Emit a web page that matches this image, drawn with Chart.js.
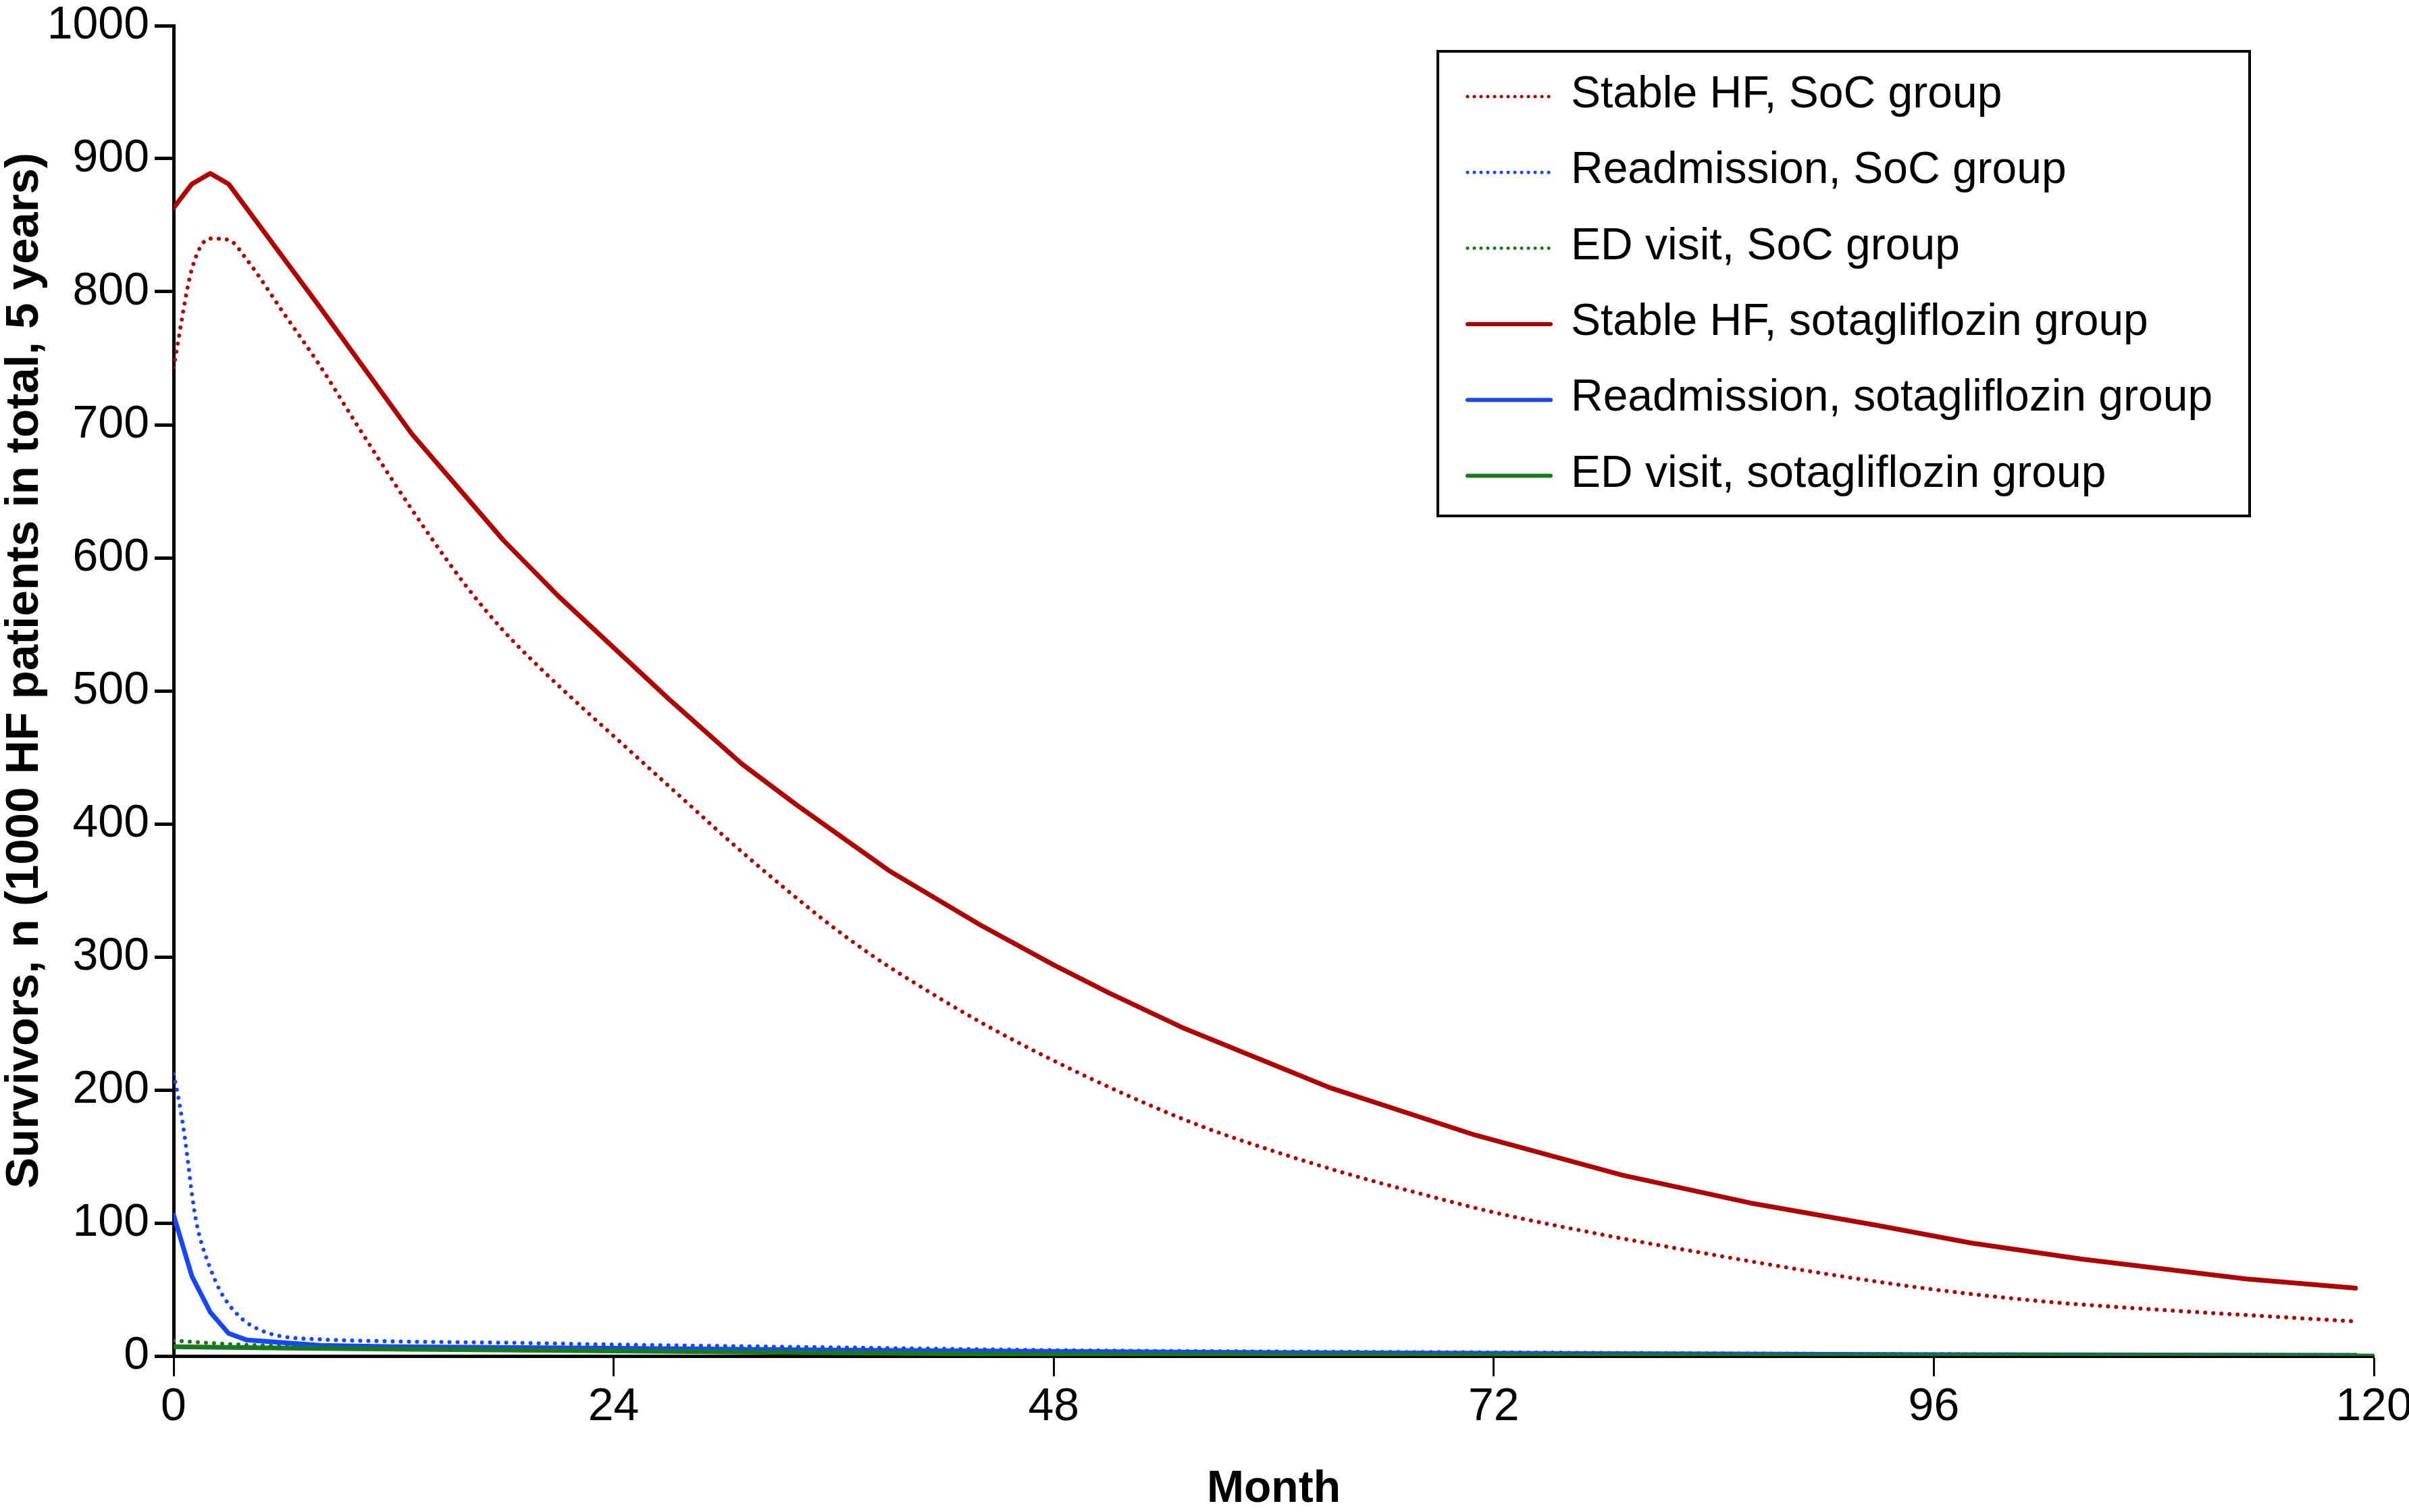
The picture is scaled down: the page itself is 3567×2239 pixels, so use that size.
<!DOCTYPE html>
<html>
<head>
<meta charset="utf-8">
<script src="https://cdn.jsdelivr.net/npm/chart.js@4.4.1/dist/chart.umd.min.js"></script>
<style>
html,body{margin:0;padding:0;background:#fff;}
#wrap{width:3567px;height:2239px;position:relative;}
</style>
</head>
<body>
<div id="wrap"><canvas id="c"></canvas></div>
<script>
// ---- Data ----
const seriesLabels = [
  "Stable HF, SoC group",
  "Readmission, SoC group",
  "ED visit, SoC group",
  "Stable HF, sotagliflozin group",
  "Readmission, sotagliflozin group",
  "ED visit, sotagliflozin group"
];
const yAxisTitle = "Survivors, n (1000 HF patients in total, 5 years)";
const xAxisTitle = "Month";

const stableSocMonths = [0,1,2,3,4,6,8,10,12,14,16,18,20,22,24,26,28,30,32,34,36,38,40,44,48,52,56,60,64,68,72,78,84,90,96,102,108,114,119];
const stableSocValues = [743,817,840,839,824,784,744,700,657,616,578,545,517,491,466,441,416,391,367,344,322,302,284,251,222,196,173,154,137,122,108,91,76,62,50,41,35,30,26];

const readmSocMonths = [0,0.25,0.5,0.75,1,1.25,1.5,2,2.5,3,3.5,4,5,6,8,12,18,24,30,36,42,48,60,72,84,96,108,119];
const readmSocValues = [212,195,175,150,122,100,86,66,50,39,31,25,18,14.5,12.5,11,10,8.6,7.5,6.5,5.4,4.4,3.4,2.7,2,1.4,1,0.7];

const edSocMonths = [0,3,6,12,24,36,48,60,72,84,96,108,119];
const edSocValues = [11.5,9,7.5,6.2,4.5,3.2,2.2,1.6,1.2,0.9,0.7,0.5,0.4];

const stableSotaMonths = [0,1,2,3,8,13,18,21,27,31,34,39,44,48,51,55,63,71,79,86,93,98,104,113,119];
const stableSotaValues = [863,881,889,881,788,693,613,571,494,445,414,365,324,294,273,247,202,166,136,115,98,85,73,58,51];

const readmSotaMonths = [0,1,2,3,4,8,12,24,36,48,60,72,84,96,108,119];
const readmSotaValues = [106,60,33,17,12,8,7,5.8,4.5,3.4,2.6,2,1.5,1,0.7,0.5];

const edSotaMonths = [0,6,12,24,36,48,60,72,84,96,108,120];
const edSotaValues = [7,6,5.2,3.8,2.4,1.2,0.8,0.5,0.3,0.2,0.1,0];

const xTicks = [0,24,48,72,96,120];
const yTicks = [0,100,200,300,400,500,600,700,800,900,1000];

const RED = "#b00000", BLUE = "#1746ff", GREEN = "#177a1f";
const FONT = "'Liberation Sans', Arial, sans-serif";

function pts(m, v){ return m.map((x,i)=>({x:x, y:v[i]})); }

const dotted = {borderWidth:6, borderDash:[0.01,12], borderCapStyle:"round", cubicInterpolationMode:"monotone"};
const solid = {borderWidth:7, borderCapStyle:"round", borderJoinStyle:"round", tension:0};

const datasets = [
  Object.assign({label:seriesLabels[0], data:pts(stableSocMonths,stableSocValues), borderColor:RED, order:5}, dotted),
  Object.assign({label:seriesLabels[1], data:pts(readmSocMonths,readmSocValues), borderColor:BLUE, order:4}, dotted),
  Object.assign({label:seriesLabels[2], data:pts(edSocMonths,edSocValues), borderColor:GREEN, order:3}, dotted),
  Object.assign({label:seriesLabels[3], data:pts(stableSotaMonths,stableSotaValues), borderColor:RED, order:2}, solid),
  Object.assign({label:seriesLabels[4], data:pts(readmSotaMonths,readmSotaValues), borderColor:BLUE, order:1}, solid),
  Object.assign({label:seriesLabels[5], data:pts(edSotaMonths,edSotaValues), borderColor:GREEN, order:0}, solid)
];
datasets.forEach(d=>{ d.pointRadius=0; d.fill=false; d.backgroundColor=d.borderColor; });

const boxLegend = {
  id:"boxLegend",
  afterDraw(chart, args, o){
    const ctx = chart.ctx;
    ctx.save();
    ctx.strokeStyle="#000"; ctx.lineWidth=o.frameWidth;
    ctx.strokeRect(o.left, o.top, o.right-o.left, o.bottom-o.top);
    ctx.font = o.font;
    ctx.textBaseline="alphabetic"; ctx.textAlign="left"; ctx.fillStyle="#000";
    chart.data.datasets.forEach((ds,i)=>{
      const y = o.firstY + i*o.rowGap;
      ctx.beginPath();
      ctx.strokeStyle = ds.borderColor;
      ctx.lineWidth = ds.borderWidth - 1;
      ctx.lineCap = "round";
      ctx.setLineDash(ds.borderDash && ds.borderDash.length ? [0.01, 10] : []);
      ctx.moveTo(o.sampleX0, y); ctx.lineTo(o.sampleX1, y);
      ctx.stroke();
      ctx.setLineDash([]);
      ctx.fillText(ds.label, o.textX, y + o.textDy);
    });
    ctx.restore();
  }
};

const yTitlePlugin = {
  id:"yTitle",
  afterDraw(chart, args, o){
    const ctx = chart.ctx;
    ctx.save();
    ctx.translate(o.x, o.y);
    ctx.rotate(-Math.PI/2);
    ctx.font = o.font;
    ctx.fillStyle = "#000";
    ctx.textAlign = "center";
    ctx.textBaseline = "middle";
    ctx.fillText(o.text, 0, 0);
    ctx.restore();
  }
};

new Chart(document.getElementById("c"), {
  type:"line",
  data:{datasets:datasets},
  plugins:[boxLegend, yTitlePlugin],
  options:{
    responsive:true, maintainAspectRatio:false, animation:false, devicePixelRatio:1,
    layout:{padding:{left:0, right:52, top:38, bottom:0}},
    plugins:{
      legend:{display:false}, tooltip:{enabled:false},
      boxLegend:{left:2129, top:76, right:3331, bottom:764, frameWidth:4,
        sampleX0:2173, sampleX1:2296, textX:2326, firstY:143, rowGap:112.3, textDy:16,
        font:"66px " + FONT},
      yTitle:{text:yAxisTitle, x:37, y:993, font:"bold 69px " + FONT}
    },
    scales:{
      x:{
        type:"linear", min:0, max:120,
        afterBuildTicks(s){ s.ticks = xTicks.map(v=>({value:v})); },
        afterFit(s){ s.height = 231; s.paddingLeft = 0; s.paddingRight = 0; },
        grid:{drawOnChartArea:false, drawTicks:true, tickLength:30, tickWidth:3, tickColor:"#000"},
        border:{display:true, color:"#000", width:5},
        ticks:{color:"#000", padding:5, maxRotation:0, callback:v=>String(v), font:{family:FONT, size:68}},
        title:{display:true, text:xAxisTitle, color:"#000", padding:0,
          font:{family:FONT, size:66, weight:"bold", lineHeight:1}}
      },
      y:{
        type:"linear", min:0, max:1000,
        afterBuildTicks(s){ s.ticks = yTicks.map(v=>({value:v})); },
        afterFit(s){ s.width = 257; s.paddingTop = 0; s.paddingBottom = 0; },
        grid:{drawOnChartArea:false, drawTicks:true, tickLength:28, tickWidth:5, tickColor:"#000"},
        border:{display:true, color:"#000", width:5},
        ticks:{color:"#000", padding:8, callback:v=>String(v), font:{family:FONT, size:68}},
        title:{display:false}
      }
    }
  }
});
</script>
</body>
</html>
